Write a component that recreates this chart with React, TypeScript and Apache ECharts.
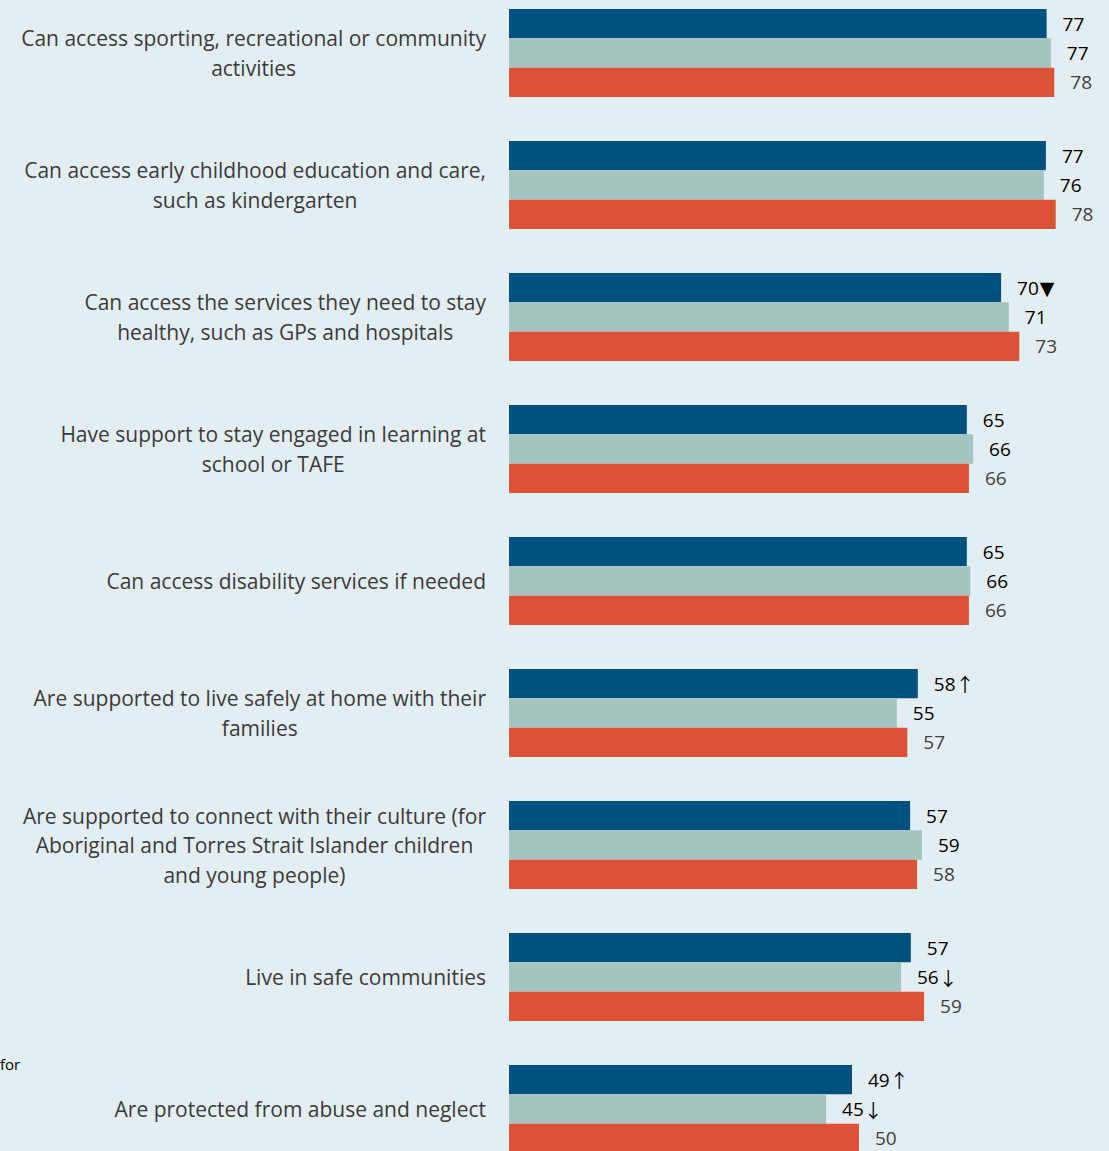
import React, { useEffect, useRef } from "react";
import * as echarts from "echarts";

const categories = [
  "Can access sporting, recreational or community\nactivities",
  "Can access early childhood education and care,\nsuch as kindergarten",
  "Can access the services they need to stay\nhealthy, such as GPs and hospitals",
  "Have support to stay engaged in learning at\nschool or TAFE",
  "Can access disability services if needed",
  "Are supported to live safely at home with their\nfamilies",
  "Are supported to connect with their culture (for\nAboriginal and Torres Strait Islander children\nand young people)",
  "Live in safe communities",
  "Are protected from abuse and neglect",
];

const seriesA = [76.8, 76.7, 70.3, 65.4, 65.4, 58.4, 57.3, 57.4, 49.0];
const seriesB = [77.4, 76.4, 71.4, 66.3, 65.9, 55.4, 59.0, 56.0, 45.3];
const seriesC = [77.9, 78.1, 72.9, 65.7, 65.7, 56.9, 58.3, 59.3, 50.0];

const markersA = ["", "", "▼", "", "", "↑", "", "", "↑"];
const markersB = ["", "", "", "", "", "", "", "↓", "↓"];
const markersC = ["", "", "", "", "", "", "", "", ""];

const FONT = "Open Sans";

export default function App() {
  const ref = useRef<HTMLDivElement>(null);
  useEffect(() => {
    document.body.style.margin = "0";
    const chart = echarts.init(ref.current!, null, { renderer: "svg" });
    const mk = (name: string, data: number[], markers: string[], color: string, labelColor: string) => ({
      name,
      type: "bar",
      data,
      barGap: "0%",
      barCategoryGap: "33.3%",
      itemStyle: { color },
      label: {
        show: true,
        position: "right",
        distance: 16,
        fontFamily: FONT,
        fontSize: 19,
        color: labelColor,
        formatter: (p: any) => {
          const m = markers[p.dataIndex];
          if (!m) return String(Math.round(p.value));
          return Math.round(p.value) + (m === "▼" ? "{t|" + m + "}" : "{m|" + m + "}");
        },
        rich: {
          m: { fontFamily: "Noto Sans CJK SC", fontSize: 19, color: labelColor },
          t: { fontFamily: "DejaVu Sans", fontSize: 19, color: labelColor, padding: [0, 0, 0, 1] },
        },
      },
    });
    chart.setOption({
      animation: false,
      backgroundColor: "#e3eef2",
      grid: { left: 509, top: 0, width: 600, height: 1188 },
      xAxis: { type: "value", min: 0, max: 600 / 7, show: false },
      yAxis: {
        type: "category",
        data: categories,
        inverse: true,
        axisLine: { show: false },
        axisTick: { show: false },
        axisLabel: {
          margin: 23,
          fontFamily: FONT,
          fontSize: 21,
          lineHeight: 29.5,
          color: "#3b3b3b",
          align: "right",
          formatter: (v: string) =>
            v
              .split("\n")
              .map((line) => "{c|" + line + "}")
              .join("\n"),
          rich: {
            c: { fontFamily: FONT, fontSize: 21, lineHeight: 29.5, color: "#3b3b3b", align: "center" },
          },
        },
      },
      series: [
        mk("A", seriesA, markersA, "#005180", "#000000"),
        mk("B", seriesB, markersB, "#a4c5bf", "#000000"),
        mk("C", seriesC, markersC, "#dc5236", "#404040"),
      ],
      graphic: [
        {
          type: "text",
          left: 0,
          top: 1069,
          style: { text: "for", fontFamily: FONT, fontSize: 15, fill: "#000" },
        },
      ],
    });
    return () => chart.dispose();
  }, []);
  return (
    <div style={{ width: 1109, height: 1151, position: "absolute", left: 0, top: 0, overflow: "hidden", background: "#e3eef2" }}>
      <div ref={ref} style={{ width: 1109, height: 1188, position: "absolute", left: 0, top: -13 }} />
    </div>
  );
}
